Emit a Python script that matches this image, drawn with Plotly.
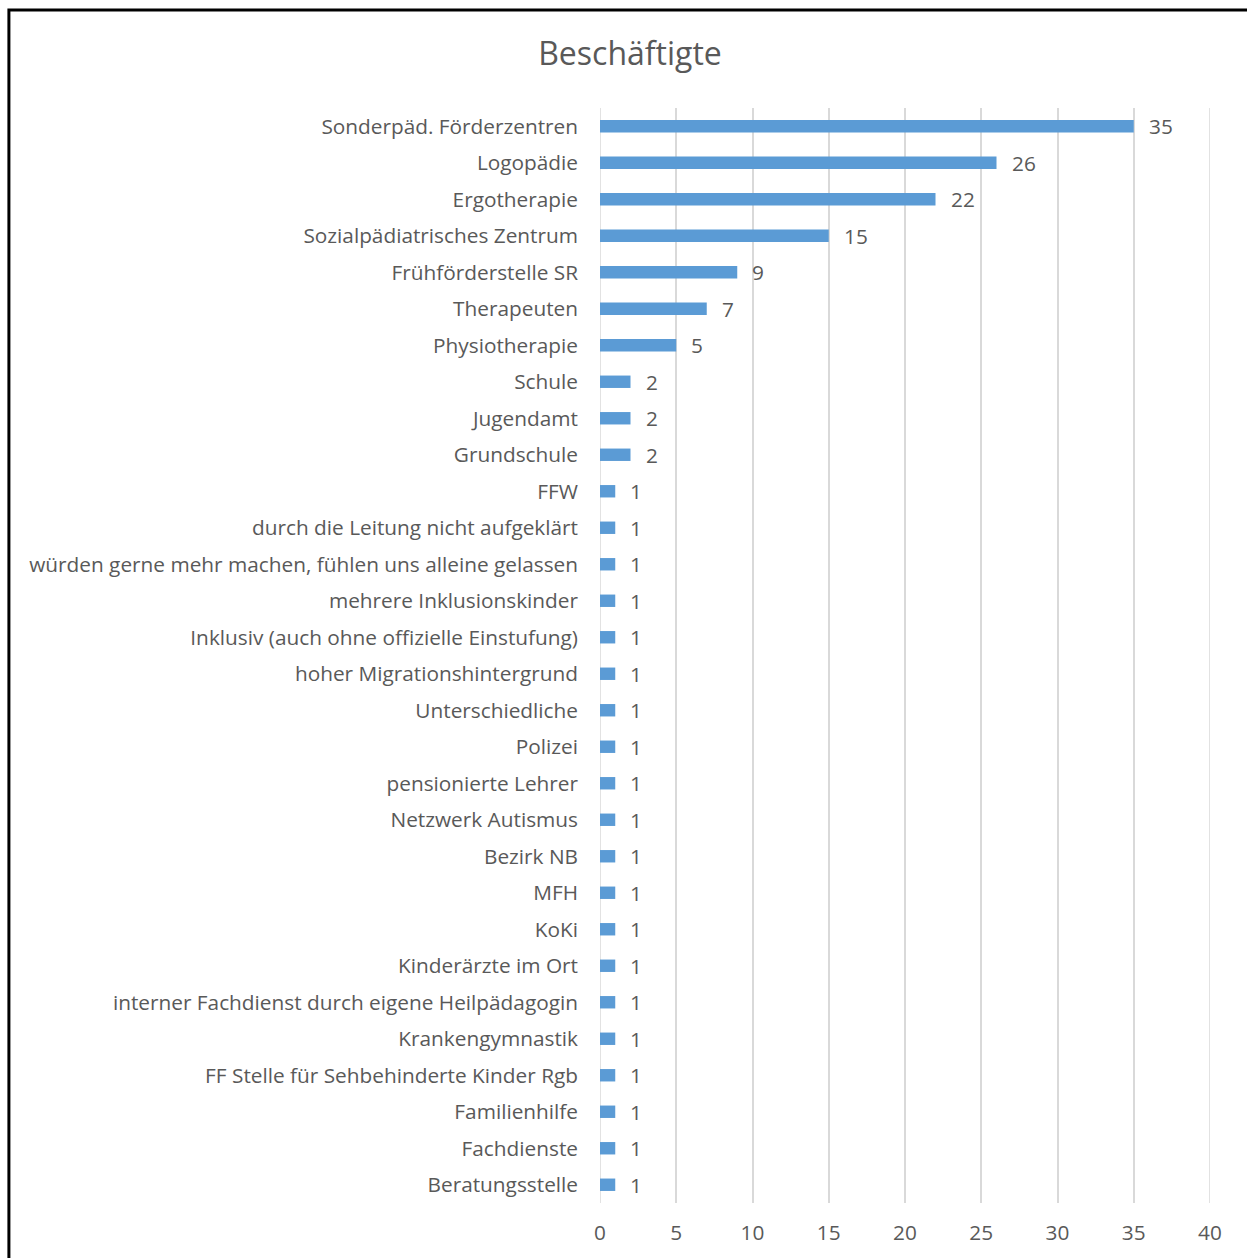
import plotly.graph_objects as go

categories = [
    "Sonderpäd. Förderzentren", "Logopädie", "Ergotherapie", "Sozialpädiatrisches Zentrum",
    "Frühförderstelle SR", "Therapeuten", "Physiotherapie", "Schule", "Jugendamt", "Grundschule",
    "FFW", "durch die Leitung nicht aufgeklärt", "würden gerne mehr machen, fühlen uns alleine gelassen",
    "mehrere Inklusionskinder", "Inklusiv (auch ohne offizielle Einstufung)", "hoher Migrationshintergrund",
    "Unterschiedliche", "Polizei", "pensionierte Lehrer", "Netzwerk Autismus", "Bezirk NB", "MFH", "KoKi",
    "Kinderärzte im Ort", "interner Fachdienst durch eigene Heilpädagogin", "Krankengymnastik",
    "FF Stelle für Sehbehinderte Kinder Rgb", "Familienhilfe", "Fachdienste", "Beratungsstelle",
]
values = [35, 26, 22, 15, 9, 7, 5, 2, 2, 2, 1, 1, 1, 1, 1, 1, 1, 1, 1, 1, 1, 1, 1, 1, 1, 1, 1, 1, 1, 1]
x_ticks = [0, 5, 10, 15, 20, 25, 30, 35, 40]

FONT = "Open Sans"
GREY = "#595959"
GRID = "#d9d9d9"
FS = 20.8

fig = go.Figure(go.Bar(
    x=values, y=categories, orientation="h",
    marker=dict(color="#5b9bd5", line=dict(width=0)),
    width=0.34, hoverinfo="x+y",
))

for c, v in zip(categories, values):
    fig.add_annotation(x=v, y=c, text=str(v), showarrow=False, xanchor="left",
                       xshift=13, font=dict(family=FONT, size=FS, color=GREY))

# gridlines at the range ends (Plotly drops them at the plot edges)
for t in (x_ticks[0], x_ticks[-1]):
    fig.add_shape(type="line", xref="x", yref="paper", x0=t, x1=t, y0=0, y1=1,
                  line=dict(color=GRID, width=1.5), layer="below")

fig.add_shape(type="rect", xref="paper", yref="paper",
              x0=-0.969, x1=1.09, y0=-0.07, y1=1.0895,
              line=dict(color="black", width=3), fillcolor="rgba(0,0,0,0)")

fig.update_layout(
    width=1247, height=1258,
    margin=dict(l=600, r=37, t=108, b=55),
    paper_bgcolor="white", plot_bgcolor="white",
    title=dict(text="Beschäftigte", x=630 / 1247, xref="container", xanchor="center",
               y=1 - 54 / 1258, yanchor="middle",
               font=dict(family=FONT, size=32, color=GREY)),
    xaxis=dict(range=[0, 40], tickvals=x_ticks, showgrid=True, gridcolor=GRID, gridwidth=1.5,
               zeroline=False, showline=False, ticks="", ticklabelstandoff=15,
               tickfont=dict(family=FONT, size=FS, color=GREY)),
    yaxis=dict(autorange="reversed", showgrid=False, showline=False, zeroline=False, ticks="",
               ticklabelstandoff=21, tickfont=dict(family=FONT, size=FS, color=GREY)),
    showlegend=False,
    font=dict(family=FONT),
)

fig.write_html("out.html")
